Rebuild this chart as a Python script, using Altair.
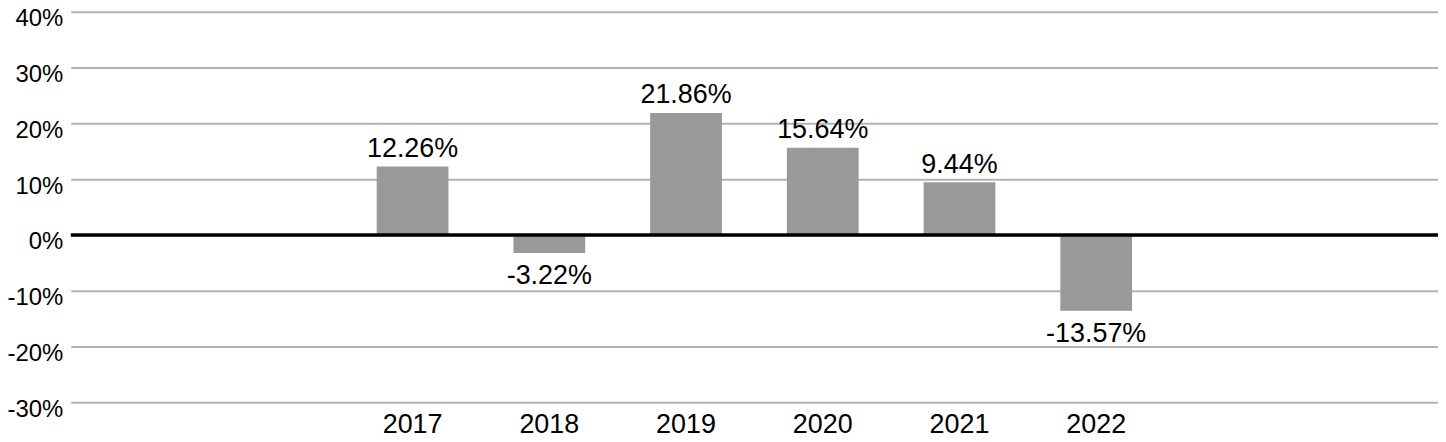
import altair as alt
import pandas as pd

slots = ["s1", "s2", "2017", "2018", "2019", "2020", "2021", "2022", "s3", "s4"]
years = ["2017", "2018", "2019", "2020", "2021", "2022"]
returns = [12.26, -3.22, 21.86, 15.64, 9.44, -13.57]
y_ticks = [-30, -20, -10, 0, 10, 20, 30, 40]

df = pd.DataFrame({"year": years, "ret": returns})
df["label"] = [f"{v:.2f}%" for v in returns]

FONT = "Liberation Sans"

x = alt.X("year:N", scale=alt.Scale(domain=slots, paddingInner=0.475, paddingOuter=0.2375),
          axis=alt.Axis(title=None, labelExpr="length(datum.label) == 4 ? datum.label : ''",
                        ticks=False, domain=False, grid=False, labelAngle=0,
                        labelFont=FONT, labelFontSize=27, labelColor="#000",
                        labelPadding=30, labelBaseline="alphabetic"))
y = alt.Y("ret:Q", scale=alt.Scale(domain=[-30, 40], nice=False, zero=False),
          axis=alt.Axis(title=None, values=y_ticks,
                        labelExpr="datum.value + '%'", ticks=False, domain=False,
                        grid=True, gridColor="#b3b3b3", gridWidth=2,
                        labelFont=FONT, labelFontSize=24, labelColor="#000",
                        labelPadding=8, labelBaseline="alphabetic", labelOffset=14))

base = alt.Chart(df)
bars = base.mark_bar(color="#999999", size=72).encode(x=x, y=y)
zero = alt.Chart(pd.DataFrame({"z": [0]})).mark_rule(color="#000", strokeWidth=3.5).encode(y="z:Q")
xs = alt.X("year:N", scale=alt.Scale(domain=slots))
pos = base.transform_filter("datum.ret >= 0").mark_text(
    font=FONT, fontSize=27, color="#000", baseline="alphabetic", dy=-9.5
).encode(x=xs, y="ret:Q", text="label:N")
neg = base.transform_filter("datum.ret < 0").mark_text(
    font=FONT, fontSize=27, color="#000", baseline="alphabetic", dy=31
).encode(x=xs, y="ret:Q", text="label:N")

chart = alt.layer(bars, zero, pos, neg).properties(
    width=1372, height=392,
    autosize=alt.AutoSizeParams(type="none"),
    padding={"left": 63, "top": 3, "right": 0, "bottom": 31},
).configure_view(stroke=None)

chart.save("out.html", embed_options={"renderer": "svg", "actions": False})
